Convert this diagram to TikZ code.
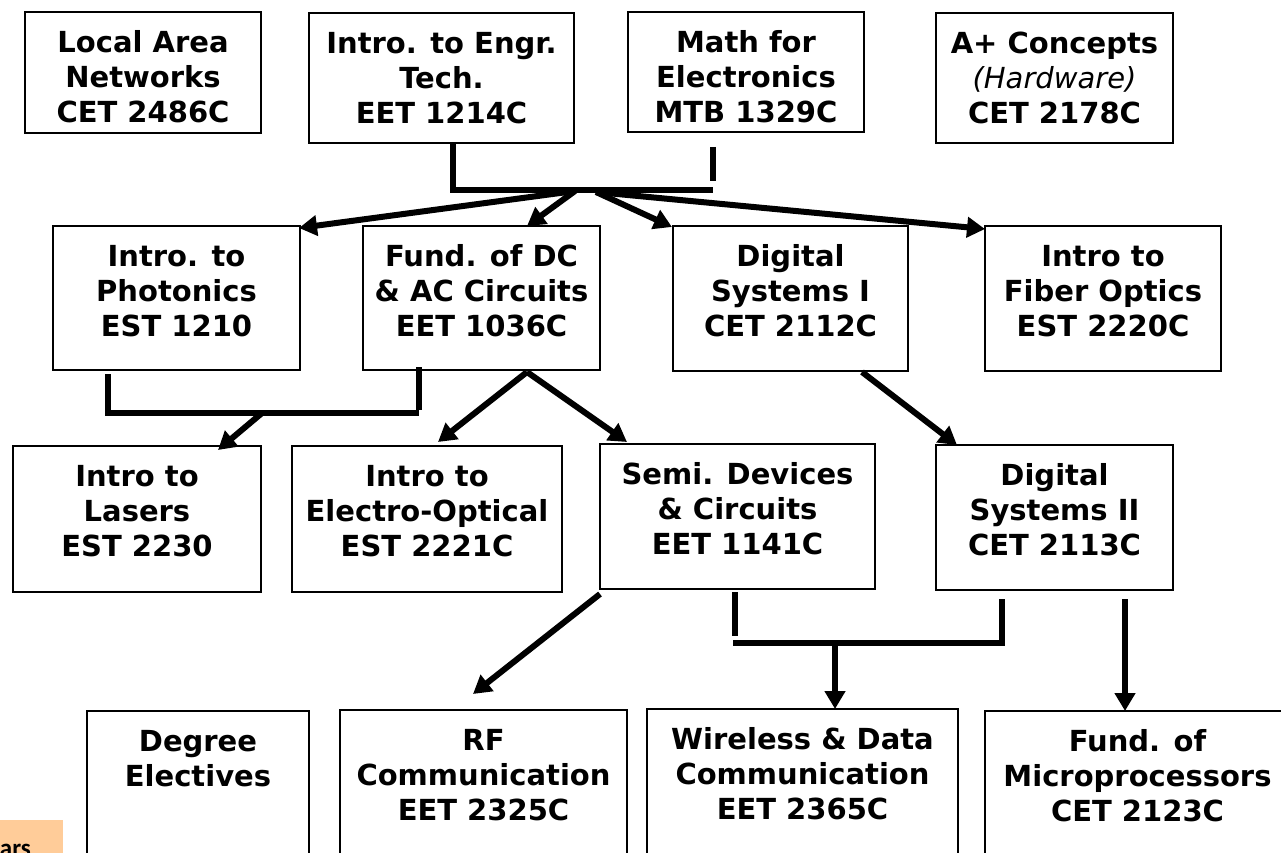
\documentclass[tikz,border=0pt]{standalone}
\usepackage{fontspec}
\setmainfont{DejaVu Sans}
\newfontfamily\carlfont{Carlito}
\usetikzlibrary{arrows.meta}
\definecolor{peach}{HTML}{FFCC99}
\newcommand\course[6]{%
  \pgfmathsetmacro\crsx{(#2+#4)/2}\pgfmathsetmacro\crsy{(#3+#5)/2}%
  \pgfmathsetmacro\crsw{#4-#2}\pgfmathsetmacro\crsh{#5-#3}%
  \node[box, minimum width=\crsw pt, minimum height=\crsh pt] (#1) at (\crsx,\crsy) {};
  \node[txt, anchor=north] (#1-t) at (#1.north) {\rule{0pt}{40pt}#6};
}
\begin{document}
\begin{tikzpicture}[x=1pt,y=-1pt,
  box/.style={draw=black, line width=1.6pt, inner sep=0pt, outer sep=0pt, fill=white},
  txt/.style={inner sep=0pt, align=center, font=\bfseries\fontsize{29}{35}\selectfont},
  conn/.style={line width=6pt, draw=black},
  arr/.style={conn, -{Triangle[length=18pt,width=20pt]}}]
\useasboundingbox (0,0) rectangle (1281,853);
\clip (0,0) rectangle (1281,853);
\fill[white] (0,0) rectangle (1281,853);

% row 1
\course{lan}{25}{12}{261}{133}{Local Area\\Networks\\CET 2486C}
\course{engr}{309}{13}{574}{143}{Intro. to Engr.\\Tech.\\EET 1214C}
\course{math}{628}{12}{864}{132}{Math for\\Electronics\\MTB 1329C}
\course{aplus}{936}{13}{1173}{143}{A+ Concepts\\{\mdseries\itshape (Hardware)}\\CET 2178C}
% row 2
\course{phot}{53}{226}{300}{370}{Intro. to\\Photonics\\EST 1210}
\course{fund}{363}{226}{600}{370}{Fund. of DC\\\& AC Circuits\\EET 1036C}
\course{dig1}{673}{226}{908}{371}{Digital\\Systems I\\CET 2112C}
\course{fiber}{985}{226}{1221}{371}{Intro to\\Fiber Optics\\EST 2220C}
% row 3
\course{lasers}{13}{446}{261}{592}{Intro to\\Lasers\\EST 2230}
\course{eo}{292}{446}{562}{592}{Intro to\\Electro-Optical\\EST 2221C}
\course{semi}{600}{444}{875}{589}{Semi. Devices\\\& Circuits\\EET 1141C}
\course{dig2}{936}{445}{1173}{590}{Digital\\Systems II\\CET 2113C}
% row 4
\course{elect}{87}{711}{309}{900}{Degree\\Electives}
\course{rf}{340}{710}{627}{900}{RF\\Communication\\EET 2325C}
\course{wire}{647}{709}{958}{900}{Wireless \& Data\\Communication\\EET 2365C}
\course{micro}{985}{711}{1290}{900}{Fund. of\\Microprocessors\\CET 2123C}

% legend fragment
\fill[peach] (0,820) rectangle (63,870);
\node[inner sep=0pt, anchor=base east, font=\carlfont\bfseries\fontsize{25}{30}\selectfont] (yrs) at (31,856) {ars};

% bracket from Engr / Math
\coordinate (a1) at (453,144); \coordinate (a2) at (713,190);
\coordinate (a3) at (713,147); \coordinate (a4) at (713,181);
\draw[conn] (a1) |- (a2);
\draw[conn] (a3) -- (a4);
\coordinate (h1) at (575,191); \coordinate (h2) at (596,192);
\coordinate (t1) at (299,228); \coordinate (t2) at (527,226);
\coordinate (t3) at (672,227); \coordinate (t4) at (985,229);
\draw[arr] (h1) -- (t1);
\draw[arr] (h1) -- (t2);
\draw[arr] (h2) -- (t3);
\draw[arr] (h2) -- (t4);

% bracket from Photonics / Fund
\coordinate (b1) at (108,374); \coordinate (b2) at (419,413);
\coordinate (b3) at (419,367); \coordinate (b4) at (419,410);
\draw[conn] (b1) |- (b2);
\draw[conn] (b3) -- (b4);
\coordinate (b5) at (262,413); \coordinate (b6) at (218,450);
\draw[arr] (b5) -- (b6);

% from Fund
\coordinate (c0) at (527,372); \coordinate (c1) at (438,442); \coordinate (c2) at (627,442);
\draw[arr] (c0) -- (c1);
\draw[arr] (c0) -- (c2);

% Digital I -> Digital II
\coordinate (d0) at (862,372); \coordinate (d1) at (957,445);
\draw[arr] (d0) -- (d1);

% Semi -> RF
\coordinate (e0) at (600,594); \coordinate (e1) at (473,694);
\draw[arr] (e0) -- (e1);

% bracket Semi / Digital II -> Wireless
\coordinate (f1) at (735,592); \coordinate (f2) at (735,636);
\coordinate (f3) at (1002,599); \coordinate (f4) at (733,643);
\draw[conn] (f1) -- (f2);
\draw[conn] (f3) |- (f4);
\coordinate (f5) at (835,643); \coordinate (f6) at (835,709);
\draw[arr] (f5) -- (f6);

% Digital II -> Micro
\coordinate (g0) at (1125,599); \coordinate (g1) at (1125,711);
\draw[arr] (g0) -- (g1);
\end{tikzpicture}
\end{document}
